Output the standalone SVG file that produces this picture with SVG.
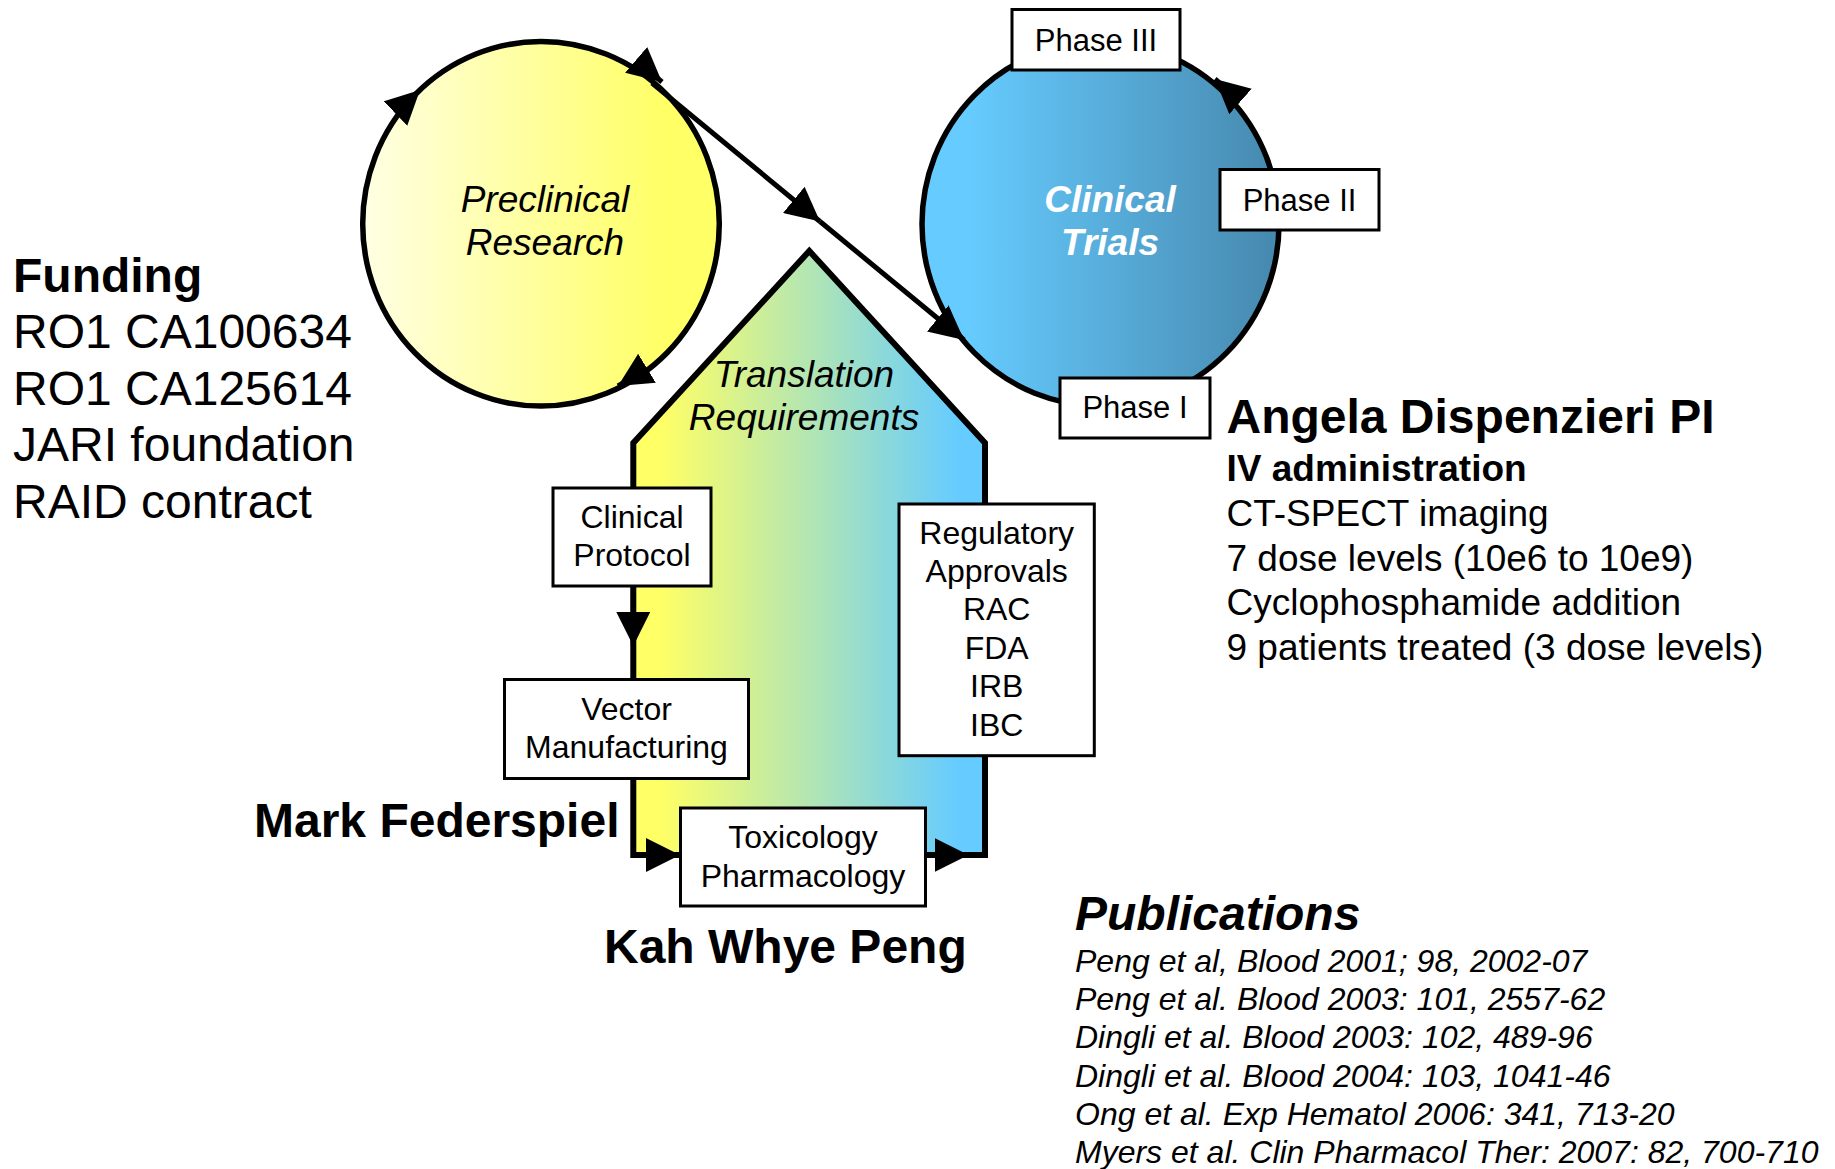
<svg xmlns="http://www.w3.org/2000/svg" width="1835" height="1169" viewBox="0 0 1835 1169">
<defs>
<linearGradient id="gYellow" x1="0" y1="0" x2="1" y2="0">
<stop offset="0" stop-color="#FFFFE4"/>
<stop offset="0.85" stop-color="#FFFF66"/>
<stop offset="1" stop-color="#FFFF66"/>
</linearGradient>
<linearGradient id="gBlue" x1="0" y1="0" x2="1" y2="0">
<stop offset="0" stop-color="#66CCFF"/>
<stop offset="0.12" stop-color="#66CCFF"/>
<stop offset="1" stop-color="#4688AE"/>
</linearGradient>
<linearGradient id="gHouse" x1="0" y1="0" x2="1" y2="0">
<stop offset="0.08" stop-color="#FFFF66"/>
<stop offset="0.92" stop-color="#66CCFF"/>
</linearGradient>
<marker id="arrow" markerUnits="userSpaceOnUse" viewBox="0 0 34 34" markerWidth="34" markerHeight="34" refX="34" refY="17" orient="auto">
<path d="M0,0 L34,17 L0,34 Z" fill="#000"/>
</marker>
</defs>
<style>
.t{font-family:"Liberation Sans",Arial,sans-serif;fill:#000}
.box{fill:#fff;stroke:#000;stroke-width:3}
.bt{font-size:32px;text-anchor:middle}
.ph{font-size:31px;text-anchor:middle}
.big{font-size:48px;font-weight:bold}
.reg{font-size:48px}
.mid{font-size:37px}
.it{font-style:italic}
.conn{fill:none;stroke:#000;stroke-width:5}
.circ{stroke:#000;stroke-width:5.5}
</style>

<g id="translation">
<polygon points="633.3,855 633.3,443 809.3,251 985,443 985,855" fill="url(#gHouse)" stroke="#000" stroke-width="6" stroke-linejoin="miter"/>
<text class="t mid it" x="804" y="386.7" text-anchor="middle">Translation</text>
<text class="t mid it" x="804" y="430" text-anchor="middle">Requirements</text>
</g>

<g id="preclinical">
<ellipse cx="541" cy="223.8" rx="178.3" ry="182.3" fill="url(#gYellow)" class="circ"/>
<text class="t mid it" x="545" y="211.7" text-anchor="middle">Preclinical</text>
<text class="t mid it" x="545" y="255" text-anchor="middle">Research</text>
</g>

<g id="clinical">
<ellipse cx="1100.5" cy="224" rx="178.5" ry="182" fill="url(#gBlue)" class="circ"/>
<text class="t mid it" x="1110" y="211.7" text-anchor="middle" font-weight="bold" style="fill:#fff">Clinical</text>
<text class="t mid it" x="1110" y="255" text-anchor="middle" font-weight="bold" style="fill:#fff">Trials</text>
</g>

<g id="phase3">
<rect class="box" x="1012" y="9.5" width="168" height="60.5"/>
<text class="t ph" x="1096" y="50.7">Phase III</text>
</g>
<g id="phase2">
<rect class="box" x="1220" y="169.5" width="159" height="60.5"/>
<text class="t ph" x="1299.5" y="210.7">Phase II</text>
</g>
<g id="phase1">
<rect class="box" x="1060" y="378" width="150" height="60"/>
<text class="t ph" x="1135" y="417.7">Phase I</text>
</g>

<g id="clinical-protocol">
<rect class="box" x="553" y="488" width="158" height="98"/>
<text class="t bt" x="632" y="527.7">Clinical</text>
<text class="t bt" x="632" y="566">Protocol</text>
</g>
<g id="vector-manufacturing">
<rect class="box" x="504.5" y="679.5" width="244" height="99"/>
<text class="t bt" x="626.5" y="720">Vector</text>
<text class="t bt" x="626.5" y="758.3">Manufacturing</text>
</g>
<g id="toxicology">
<rect class="box" x="680.5" y="808" width="245" height="98"/>
<text class="t bt" x="803" y="848.3">Toxicology</text>
<text class="t bt" x="803" y="886.6">Pharmacology</text>
</g>
<g id="regulatory">
<rect class="box" x="899" y="504" width="195.3" height="251.7"/>
<text class="t bt" x="996.7" y="544">Regulatory</text>
<text class="t bt" x="996.7" y="581.7">Approvals</text>
<text class="t bt" x="996.7" y="620">RAC</text>
<text class="t bt" x="996.7" y="659">FDA</text>
<text class="t bt" x="996.7" y="697.3">IRB</text>
<text class="t bt" x="996.7" y="736">IBC</text>
</g>

<g id="connectors">
<path class="conn" d="M410,99.6 L420,90" marker-end="url(#arrow)"/>
<path class="conn" d="M654.4,75.5 L662,82" marker-end="url(#arrow)"/>
<path class="conn" d="M626.5,380.8 L618,386" marker-end="url(#arrow)"/>
<path class="conn" d="M1222.5,85.6 L1215,79" marker-end="url(#arrow)"/>
<path class="conn" d="M652,83 L820,221.5" marker-end="url(#arrow)"/>
<path class="conn" d="M820,221.5 L964,340" marker-end="url(#arrow)"/>
<path class="conn" stroke-width="6" d="M633.3,587 L633.3,646" marker-end="url(#arrow)"/>
<path class="conn" stroke-width="6" d="M640,855 L680,855" marker-end="url(#arrow)"/>
<path class="conn" stroke-width="6" d="M927,855 L968.5,855" marker-end="url(#arrow)"/>
</g>

<g id="funding">
<text class="t big" x="13" y="291.5">Funding</text>
<text class="t reg" x="13" y="348">RO1 CA100634</text>
<text class="t reg" x="13" y="404.5">RO1 CA125614</text>
<text class="t reg" x="13" y="461">JARI foundation</text>
<text class="t reg" x="13" y="517.5">RAID contract</text>
</g>

<g id="people">
<text class="t big" x="254" y="836.7">Mark Federspiel</text>
<text class="t big" x="604" y="962.5">Kah Whye Peng</text>
</g>

<g id="clinical-info">
<text class="t big" x="1226.5" y="433.3">Angela Dispenzieri PI</text>
<text class="t mid" x="1226.5" y="480.5" font-weight="bold">IV administration</text>
<text class="t mid" x="1226.5" y="525.7">CT-SPECT imaging</text>
<text class="t mid" x="1226.5" y="570.5">7 dose levels (10e6 to 10e9)</text>
<text class="t mid" x="1226.5" y="615.3">Cyclophosphamide addition</text>
<text class="t mid" x="1226.5" y="659.5">9 patients treated (3 dose levels)</text>
</g>

<g id="publications">
<text class="t big it" x="1075" y="930">Publications</text>
<text class="t it" font-size="32" x="1075" y="971.7">Peng et al, Blood 2001; 98, 2002-07</text>
<text class="t it" font-size="32" x="1075" y="1010">Peng et al. Blood 2003: 101, 2557-62</text>
<text class="t it" font-size="32" x="1075" y="1048.3">Dingli et al. Blood 2003: 102, 489-96</text>
<text class="t it" font-size="32" x="1075" y="1086.7">Dingli et al. Blood 2004: 103, 1041-46</text>
<text class="t it" font-size="32" x="1075" y="1125">Ong et al. Exp Hematol 2006: 341, 713-20</text>
<text class="t it" font-size="32" x="1075" y="1163.3">Myers et al. Clin Pharmacol Ther: 2007: 82, 700-710</text>
</g>
</svg>
